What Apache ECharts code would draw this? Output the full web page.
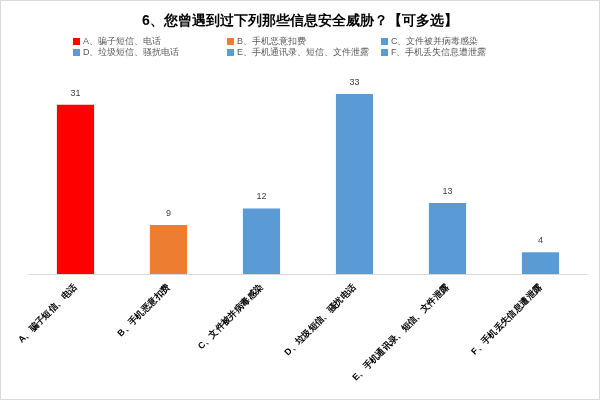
<!DOCTYPE html>
<html>
<head>
<meta charset="utf-8">
<script src="https://cdn.jsdelivr.net/npm/echarts@6/dist/echarts.min.js"></script>
<style>
html, body { margin: 0; padding: 0; background: #fff; }
#chart { width: 598px; height: 398px; border: 1px solid #d9d9d9; }
</style>
</head>
<body>
<div id="chart"></div>
<script>
var categories = ['A、骗子短信、电话', 'B、手机恶意扣费', 'C、文件被并病毒感染',
    'D、垃圾短信、骚扰电话', 'E、手机通讯录、短信、文件泄露', 'F、手机丢失信息遭泄露'];
var values = [31, 9, 12, 33, 13, 4];
var colors = ['#ff0000', '#ed7d31', '#5b9bd5', '#5b9bd5', '#5b9bd5', '#5b9bd5'];
var legendLeft = [72, 226, 380, 72, 226, 380];
var legendTop = [36, 36, 36, 47, 47, 47];

let myChart = echarts.init(document.getElementById('chart'));

var series = [];
var legends = [];
categories.forEach(function (name, i) {
    var d = values.map(function (v, j) { return j === i ? v : '-'; });
    series.push({
        name: name,
        type: 'bar',
        stack: 'all',
        barWidth: '40%',
        data: d,
        itemStyle: { color: colors[i] },
        label: { show: true, position: 'top', color: '#404040', fontSize: 9, distance: 7 }
    });
    legends.push({
        data: [name],
        left: legendLeft[i],
        top: legendTop[i],
        padding: 0,
        itemWidth: 7,
        itemHeight: 7,
        itemGap: 4,
        icon: 'rect',
        textStyle: { fontSize: 9, color: '#595959', padding: [0, 0, 0, -2] }
    });
});

let option = {
    title: {
        text: '6、您曾遇到过下列那些信息安全威胁？【可多选】',
        left: 'center',
        top: 8,
        textStyle: { fontSize: 14, fontWeight: 'bold', color: '#000' }
    },
    legend: legends,
    grid: { left: 28, right: 12, top: 82, bottom: 125 },
    xAxis: {
        type: 'category',
        data: categories,
        axisTick: { show: false },
        axisLine: { lineStyle: { color: '#d9d9d9' } },
        axisLabel: { rotate: 45, fontSize: 9, fontWeight: 'bold', color: '#000', interval: 0, margin: 12 }
    },
    yAxis: {
        type: 'value',
        min: 0,
        max: 35,
        show: false
    },
    series: series
};
myChart.setOption(option);
</script>
</body>
</html>
